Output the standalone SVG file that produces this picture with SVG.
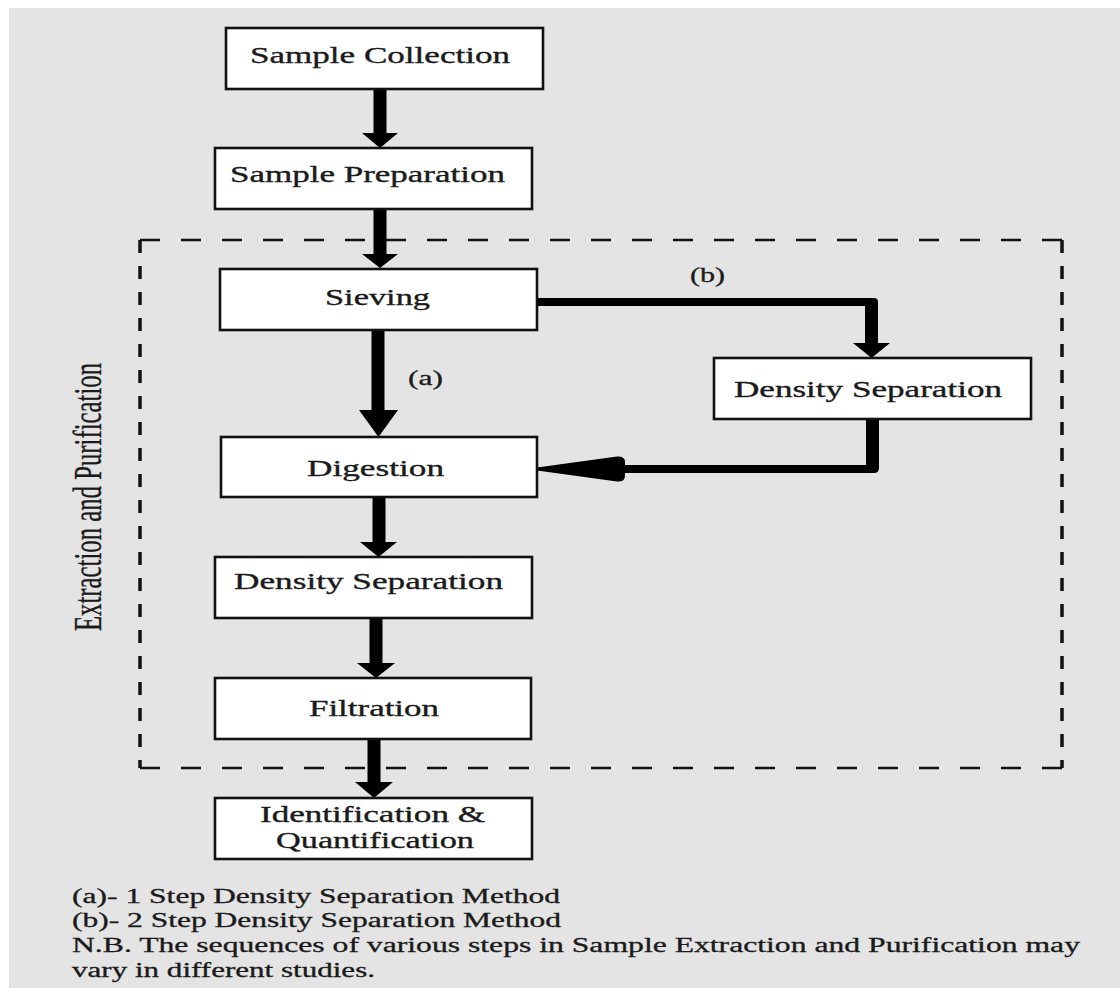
<svg xmlns="http://www.w3.org/2000/svg" width="1120" height="994" viewBox="0 0 1120 994">
<style>
.box{fill:#ffffff;stroke:#111111;stroke-width:2.6}
.lbl{font-family:"Liberation Serif","Times New Roman",serif;font-size:24px;fill:#1a1a1a;stroke:#1a1a1a;stroke-width:0.35}
.note{font-family:"Liberation Serif","Times New Roman",serif;font-size:20.5px;fill:#1a1a1a;stroke:#1a1a1a;stroke-width:0.3}
.conn{fill:#000000;stroke:none}
.dv{stroke:#111111;stroke-width:3.5;stroke-dasharray:13 13;fill:none}
.dh{stroke:#111111;stroke-width:2.6;stroke-dasharray:20 21;fill:none}
</style>
<rect x="0" y="0" width="1120" height="994" fill="#ffffff"/>
<rect x="9" y="8" width="1111" height="980" fill="#e4e4e4"/>

<g id="extraction-frame">
<line class="dh" x1="140" y1="240" x2="1062" y2="240"/>
<line class="dh" x1="140" y1="768" x2="1062" y2="768"/>
<line class="dv" x1="140" y1="240" x2="140" y2="768"/>
<line class="dv" x1="1062" y1="240" x2="1062" y2="768"/>
<text class="lbl" transform="translate(101,497) rotate(-90)" text-anchor="middle" textLength="268" lengthAdjust="spacingAndGlyphs" style="font-size:39px">Extraction and Purification</text>
</g>

<g id="connectors">
<!-- SC -> SP -->
<rect class="conn" x="373.5" y="89" width="13" height="45"/>
<polygon class="conn" points="362,133 398,133 380,148"/>
<!-- SP -> Sieving -->
<rect class="conn" x="373.5" y="209" width="13" height="46"/>
<polygon class="conn" points="362,254 398,254 380,268"/>
<!-- Sieving -> Digestion (a) -->
<rect class="conn" x="371.5" y="330" width="13" height="81"/>
<polygon class="conn" points="359,410 398,410 378.5,437"/>
<!-- Digestion -> DS -->
<rect class="conn" x="372.5" y="497" width="13" height="46"/>
<polygon class="conn" points="360,542 397,542 378.5,557"/>
<!-- DS -> Filtration -->
<rect class="conn" x="369.5" y="618" width="13" height="46"/>
<polygon class="conn" points="357,663 395,663 376,678"/>
<!-- Filtration -> Identification -->
<rect class="conn" x="367.5" y="739" width="13" height="44"/>
<polygon class="conn" points="355,782 393,782 374,798"/>
<!-- (b) Sieving -> Density Separation -->
<path class="conn" d="M537,298 L874,298 Q878,298 878,302 L878,344 L865,344 L865,306 L537,306 Z"/>
<polygon class="conn" points="853,343 890,343 871.5,358"/>
<!-- Density Separation -> Digestion -->
<path class="conn" d="M866,419 L879,419 L879,468 Q879,473 874,473 L618,473 L618,465 L866,465 Z"/>
<path class="conn" d="M537,467.5 L617,456.5 Q625,456 625,462 L625,476 Q625,482 617,481.5 L537,470.5 Z"/>
</g>

<g id="sample-collection">
<rect class="box" x="226" y="28" width="317" height="61"/>
<text class="lbl" x="250" y="63" textLength="260" lengthAdjust="spacingAndGlyphs">Sample Collection</text>
</g>
<g id="sample-preparation">
<rect class="box" x="215" y="148" width="317" height="61"/>
<text class="lbl" x="230" y="182" textLength="275" lengthAdjust="spacingAndGlyphs">Sample Preparation</text>
</g>
<g id="sieving">
<rect class="box" x="220" y="269" width="317" height="61"/>
<text class="lbl" x="325" y="305" textLength="105" lengthAdjust="spacingAndGlyphs">Sieving</text>
</g>
<g id="density-separation-b">
<rect class="box" x="714" y="358" width="317" height="61"/>
<text class="lbl" x="734" y="397" textLength="268" lengthAdjust="spacingAndGlyphs">Density Separation</text>
</g>
<g id="digestion">
<rect class="box" x="221" y="437" width="316" height="60"/>
<text class="lbl" x="307" y="476" textLength="137" lengthAdjust="spacingAndGlyphs">Digestion</text>
</g>
<g id="density-separation-a">
<rect class="box" x="215" y="557" width="317" height="61"/>
<text class="lbl" x="234" y="589" textLength="269" lengthAdjust="spacingAndGlyphs">Density Separation</text>
</g>
<g id="filtration">
<rect class="box" x="215" y="678" width="316" height="61"/>
<text class="lbl" x="309" y="716" textLength="130" lengthAdjust="spacingAndGlyphs">Filtration</text>
</g>
<g id="identification">
<rect class="box" x="215" y="798" width="317" height="61"/>
<text class="lbl" x="260" y="822" textLength="225" lengthAdjust="spacingAndGlyphs">Identification &amp;</text>
<text class="lbl" x="276" y="848" textLength="198" lengthAdjust="spacingAndGlyphs">Quantification</text>
</g>

<g id="labels">
<text class="note" x="408" y="385" textLength="35" lengthAdjust="spacingAndGlyphs">(a)</text>
<text class="note" x="690" y="282" textLength="35" lengthAdjust="spacingAndGlyphs">(b)</text>
</g>

<g id="legend">
<text class="note" x="72" y="903" textLength="488" lengthAdjust="spacingAndGlyphs">(a)- 1 Step Density Separation Method</text>
<text class="note" x="72" y="927" textLength="489" lengthAdjust="spacingAndGlyphs">(b)- 2 Step Density Separation Method</text>
<text class="note" x="72" y="952" textLength="1008" lengthAdjust="spacingAndGlyphs">N.B. The sequences of various steps in Sample Extraction and Purification may</text>
<text class="note" x="72" y="977" textLength="303" lengthAdjust="spacingAndGlyphs">vary in different studies.</text>
</g>
</svg>
